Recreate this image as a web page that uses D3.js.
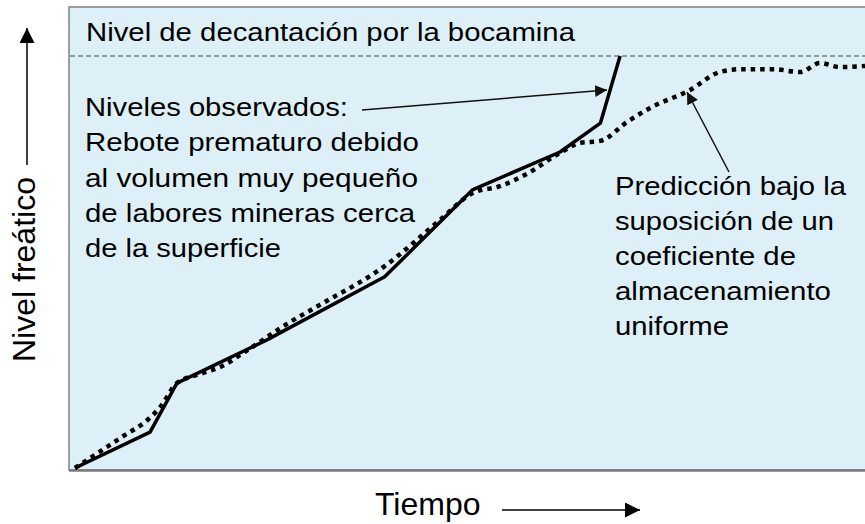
<!DOCTYPE html>
<html><head><meta charset="utf-8">
<script src="https://cdn.jsdelivr.net/npm/d3@7"></script>
<style>html,body{margin:0;padding:0;background:#fff}svg{display:block}</style>
</head><body>
<svg id="chart" width="865" height="524"></svg>
<script>
// Time (arbitrary 0-100) and water level (0 = start, 100 = decant level at adit)
const obsTime  = [0, 9.5, 12.9, 24.3, 39.2, 50.3, 61.4, 66.5, 69.0];
const obsLevel = [0, 8.7, 20.6, 31.1, 46.4, 67.5, 76.7, 83.7, 100];
const predTime  = [0, 5.9, 9.2, 10.8, 12.9, 15.8, 18.7, 21.5, 27.2, 31.0, 39.2, 46.2, 50.3, 53.8, 57.2, 61.4, 63.9, 66.5, 69.9, 72.8, 77.8, 81.6, 84.2, 88.4, 91.8, 94.3, 96.8, 100];
const predLevel = [0, 7.5, 11.7, 14.8, 20.6, 22.8, 24.8, 28.2, 35.4, 39.6, 49.0, 60.2, 66.7, 68.4, 71.4, 76.5, 78.9, 79.4, 84.0, 87.4, 91.7, 96.1, 96.8, 96.8, 96.1, 98.3, 97.3, 97.6];
const decantLevel = 100;
const titleText = "Nivel de decantación por la bocamina";
const obsNote = ["Niveles observados:", "Rebote prematuro debido", "al volumen muy pequeño", "de labores mineras cerca", "de la superficie"];
const predNote = ["Predicción bajo la", "suposición de un", "coeficiente de", "almacenamiento", "uniforme"];
const yLabel = "Nivel freático";
const xLabel = "Tiempo";

const svg = d3.select("#chart");
const FONT = "Liberation Sans, Arial, sans-serif";
const x = d3.scaleLinear().domain([0, 100]).range([75, 865]);
const y = d3.scaleLinear().domain([0, 100]).range([468, 56]);

const defs = svg.append("defs");
defs.append("marker").attr("id", "ah").attr("viewBox", "0 0 10 10")
  .attr("refX", 10).attr("refY", 5).attr("markerWidth", 12).attr("markerHeight", 12)
  .attr("markerUnits", "userSpaceOnUse").attr("orient", "auto")
  .append("path").attr("d", "M0,0 L10,5 L0,10 Z").attr("fill", "#111");
defs.append("marker").attr("id", "ah2").attr("viewBox", "0 0 10 10")
  .attr("refX", 10).attr("refY", 5).attr("markerWidth", 15).attr("markerHeight", 15)
  .attr("markerUnits", "userSpaceOnUse").attr("orient", "auto")
  .append("path").attr("d", "M0,0 L10,5 L0,10 Z").attr("fill", "#000");

// plot area
svg.append("rect").attr("x", 69).attr("y", 7).attr("width", 820).attr("height", 463)
  .attr("fill", "#ddf0f7").attr("stroke", "#808080").attr("stroke-width", 1.5);
svg.append("line").attr("x1", 69).attr("x2", 865).attr("y1", 470.5).attr("y2", 470.5)
  .attr("stroke", "#7a7a7a").attr("stroke-width", 2.5);

// decant level
svg.append("line").attr("x1", 70).attr("x2", 865).attr("y1", y(decantLevel)).attr("y2", y(decantLevel))
  .attr("stroke", "#444").attr("stroke-width", 1.2).attr("stroke-dasharray", "5,3");

const line = d3.line().x(d => x(d[0])).y(d => y(d[1]));
svg.append("path").datum(predTime.map((t, i) => [t, predLevel[i]]))
  .attr("d", line.curve(d3.curveMonotoneX)).attr("fill", "none").attr("stroke", "#000")
  .attr("stroke-width", 4.5).attr("stroke-dasharray", "4.5,5");
svg.append("path").datum(obsTime.map((t, i) => [t, obsLevel[i]]))
  .attr("d", d3.line().x(d => x(d[0])).y(d => y(d[1]))).attr("fill", "none").attr("stroke", "#000")
  .attr("stroke-width", 3.5).attr("stroke-linejoin", "round");

// texts (slightly wide rendering)
function wideText(str, tx, ty, len) {
  svg.append("text").attr("x", tx).attr("y", ty).attr("font-family", FONT).attr("font-size", 26)
    .attr("fill", "#000").attr("textLength", len).attr("lengthAdjust", "spacingAndGlyphs").text(str);
}
wideText(titleText, 86, 41, 489);
const obsLens = [263, 334, 333, 330, 196];
obsNote.forEach((s, i) => wideText(s, 85, 116 + 35.3 * i, obsLens[i]));
const predLens = [231, 219, 181, 216, 114];
predNote.forEach((s, i) => wideText(s, 615, 195 + 35 * i, predLens[i]));

// annotation arrows
svg.append("line").attr("x1", 362).attr("y1", 110).attr("x2", 607).attr("y2", 90)
  .attr("stroke", "#111").attr("stroke-width", 1.5).attr("marker-end", "url(#ah)");
svg.append("line").attr("x1", 729).attr("y1", 172).attr("x2", 687).attr("y2", 92)
  .attr("stroke", "#111").attr("stroke-width", 1.5).attr("marker-end", "url(#ah)");

// axis labels
svg.append("text").attr("transform", "translate(35,362) rotate(-90)").attr("font-family", FONT)
  .attr("font-size", 32).attr("fill", "#000").text(yLabel);
svg.append("line").attr("x1", 27).attr("x2", 27).attr("y1", 165).attr("y2", 28)
  .attr("stroke", "#000").attr("stroke-width", 1.5).attr("marker-end", "url(#ah2)");
svg.append("text").attr("x", 375).attr("y", 515).attr("font-family", FONT)
  .attr("font-size", 32).attr("fill", "#000").text(xLabel);
svg.append("line").attr("x1", 502).attr("x2", 640).attr("y1", 510).attr("y2", 510)
  .attr("stroke", "#000").attr("stroke-width", 1.5).attr("marker-end", "url(#ah2)");
</script>
</body></html>
